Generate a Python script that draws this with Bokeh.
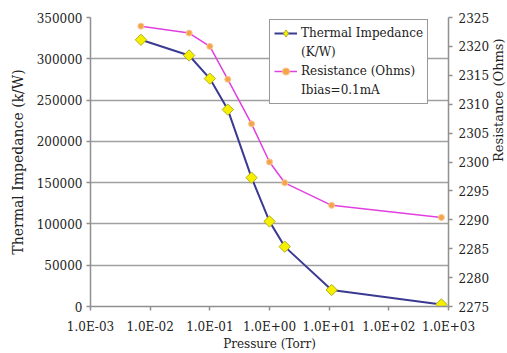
import numpy as np
from bokeh.plotting import figure
from bokeh.models import (Range1d, LinearAxis, FixedTicker, CustomJSTickFormatter,
                          NumeralTickFormatter, Legend, LegendItem, ColumnDataSource)
from bokeh.embed import file_html
from bokeh.resources import INLINE

# ---- data ----
pressure = [0.007, 0.045, 0.1, 0.2, 0.5, 1.0, 1.8, 11.0, 760.0]
thermal_impedance = [323000, 304000, 276000, 238500, 156000, 103000, 72500, 20000, 2500]
resistance = [2323.5, 2322.3, 2320.0, 2314.3, 2306.6, 2300.0, 2296.4, 2292.5, 2290.4]
x_ticks = [1e-3, 1e-2, 1e-1, 1e0, 1e1, 1e2, 1e3]
left_ticks = [0, 50000, 100000, 150000, 200000, 250000, 300000, 350000]
right_ticks = [2275, 2280, 2285, 2290, 2295, 2300, 2305, 2310, 2315, 2320, 2325]
legend_lines = ["Thermal Impedance", "(K/W)", "Resistance (Ohms)", "Ibias=0.1mA"]

FONT = "DejaVu Serif"

src = ColumnDataSource(dict(p=pressure, t=thermal_impedance, r=resistance))

p = figure(x_axis_type="log", x_range=Range1d(1e-3, 1e3), y_range=Range1d(0, 350000),
           frame_width=358, frame_height=289, output_backend="svg", toolbar_location=None,
           min_border_left=90, min_border_right=59, min_border_top=17, min_border_bottom=47)
p.extra_y_ranges = {"res": Range1d(2275, 2325)}
p.outline_line_color = None
p.background_fill_color = "white"
p.border_fill_color = "white"

# grid
p.xgrid.visible = False
p.ygrid.grid_line_color = "#a0a0a0"
p.ygrid.grid_line_width = 1.5
p.ygrid.ticker = FixedTicker(ticks=left_ticks)

def style_axis(ax, label_size="12px"):
    ax.axis_line_color = "#909090"
    ax.axis_line_width = 1.5
    ax.major_tick_line_color = "#909090"
    ax.major_tick_line_width = 1.5
    ax.major_tick_out = 4
    ax.major_tick_in = 0
    ax.minor_tick_line_color = None
    ax.major_label_text_font = FONT
    ax.major_label_text_font_size = "12px"
    ax.major_label_text_color = "#222222"
    ax.axis_label_text_font = FONT
    ax.axis_label_text_font_size = label_size
    ax.axis_label_text_font_style = "normal"
    ax.axis_label_text_color = "#222222"

# x axis
xa = p.xaxis[0]
xa.ticker = FixedTicker(ticks=x_ticks)
xa.formatter = CustomJSTickFormatter(code="""
    const e = Math.round(Math.log10(tick));
    const s = e < 0 ? '-' : '+';
    const a = Math.abs(e);
    return '1.0E' + s + (a < 10 ? '0' : '') + a;
""")
xa.axis_label = "Pressure (Torr)"
style_axis(xa, "12px")
xa.major_label_standoff = 9
xa.axis_label_standoff = 0

# left axis
ya = p.yaxis[0]
ya.ticker = FixedTicker(ticks=left_ticks)
ya.formatter = NumeralTickFormatter(format="0")
ya.axis_label = "Thermal Impedance (k/W)"
style_axis(ya, "14px")
ya.major_label_standoff = 4
ya.axis_label_standoff = 8

# right axis
ra = LinearAxis(y_range_name="res", ticker=FixedTicker(ticks=right_ticks),
                axis_label="Resistance (Ohms)")
style_axis(ra, "13px")
ra.major_label_standoff = 6
ra.axis_label_standoff = 6
if "axis_label_orientation" in ra.properties():
    ra.axis_label_orientation = np.pi / 2
p.add_layout(ra, "right")

# series
l1 = p.line("p", "t", source=src, line_color="#3a3a92", line_width=2)
m1 = p.scatter("p", "t", source=src, marker="square", angle=np.pi / 4, size=8,
               fill_color="#f6f000", line_color="#b4b020", line_width=1)
l2 = p.line("p", "r", source=src, y_range_name="res", line_color="#e040e0", line_width=1.5)
m2 = p.scatter("p", "r", source=src, y_range_name="res", marker="circle", size=6,
               fill_color="#f5a44a", line_color="#f8c890", line_width=1)

# legend-only proxies (NaN data, nothing drawn in the plot)
nan = [float("nan")]
k1 = p.scatter(x=nan, y=nan, marker="diamond", size=11,
               fill_color="#f6f000", line_color="#b4b020", line_width=1)
blank = p.line(x=nan, y=nan, line_alpha=0)

legend = Legend(items=[
    LegendItem(label=legend_lines[0], renderers=[l1, k1]),
    LegendItem(label=legend_lines[1], renderers=[blank]),
    LegendItem(label=legend_lines[2], renderers=[l2, m2]),
    LegendItem(label=legend_lines[3], renderers=[blank]),
], location=(179, 202))
legend.label_text_font = FONT
legend.label_text_font_size = "12px"
legend.label_text_color = "#222222"
legend.label_height = 18
legend.glyph_height = 18
legend.border_line_color = "#333333"
legend.border_line_width = 1
legend.background_fill_color = "white"
legend.background_fill_alpha = 1
legend.glyph_width = 23
legend.label_standoff = 4
legend.padding = 4
legend.spacing = 1
legend.margin = 0
p.add_layout(legend)

open("out.html", "w").write(file_html(p, INLINE))
